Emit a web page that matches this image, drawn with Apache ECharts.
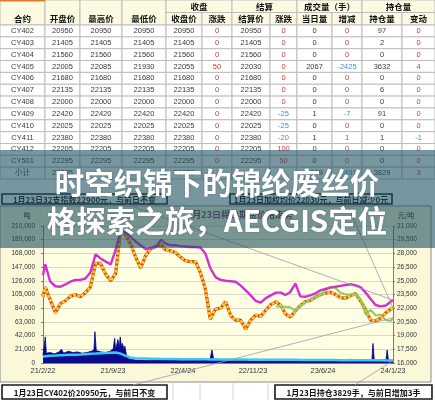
<!DOCTYPE html>
<html>
<head>
<meta charset="utf-8">
<script src="https://cdn.jsdelivr.net/npm/echarts/dist/echarts.min.js"></script>
<style>
html,body{margin:0;padding:0;background:#fff;}
#c{width:435px;height:400px;}
</style>
</head>
<body>
<div id="c"></div>
<script>
// ---------- quote table ----------
const headerGroups = ['收盘', '结算', '成交量（手）', '持仓量'];
const headerCols = ['合约', '开盘价', '最高价', '最低价', '收盘价', '涨跌', '结算价', '涨跌', '当日量', '增减', '持仓量', '变动'];
const contracts     = ['CY402','CY403','CY404','CY405','CY406','CY407','CY408','CY409','CY410','CY411','CY412','CY501','小计'];
const openPrices    = [20950,21405,21560,22005,21680,22135,22000,22420,22025,22380,22205,22295,22005];
const highPrices    = [20950,21405,21560,22085,21680,22135,22000,22420,22025,22380,22205,22295,''];
const lowPrices     = [20950,21405,21560,21930,21680,22135,22000,22420,22025,22380,22205,22295,''];
const closePrices   = [20950,21405,21560,22055,21680,22135,22000,22420,22025,22380,22205,22295,21930];
const closeChanges  = [0,0,0,50,0,0,0,0,0,0,0,0,''];
const settlePrices  = [20950,21405,21560,22030,21680,22135,22000,22420,22025,22380,22205,22295,''];
const settleChanges = [0,0,0,0,0,0,0,-25,-25,-20,100,50,''];
const dayVolumes    = [0,0,0,2067,0,0,0,1,0,1,0,0,2069];
const volumeChanges = [0,0,0,-2425,0,0,0,-7,0,1,0,0,-2431];
const openInterests = [97,2,0,3632,0,6,0,91,0,1,0,0,3829];
const oiChanges     = [0,0,0,4,0,0,0,0,0,-1,0,0,3];

// ---------- price / volume history ----------
const priceDates = ['2021-02-22','2021-03-01','2021-03-16','2021-04-01','2021-04-16','2021-05-01','2021-05-16','2021-06-01','2021-06-16','2021-07-01',
  '2021-07-16','2021-08-01','2021-08-16','2021-09-01','2021-09-16','2021-10-01','2021-10-16','2021-11-01','2021-11-16','2021-12-01',
  '2021-12-16','2022-01-01','2022-01-16','2022-02-01','2022-02-16','2022-03-01','2022-03-16','2022-04-01','2022-04-16','2022-05-01',
  '2022-05-16','2022-06-01','2022-06-16','2022-07-01','2022-07-16','2022-08-01','2022-08-16','2022-09-01','2022-09-16','2022-10-01',
  '2022-10-16','2022-11-01','2022-11-16','2022-12-01','2022-12-16','2023-01-01','2023-01-16','2023-02-01','2023-02-16','2023-03-01',
  '2023-03-16','2023-04-01','2023-04-16','2023-05-01','2023-05-16','2023-06-01','2023-06-16','2023-07-01','2023-07-16','2023-08-01',
  '2023-08-16','2023-09-01','2023-09-16','2023-10-01','2023-10-16','2023-11-01','2023-11-16','2023-12-01','2023-12-16','2024-01-01',
  '2024-01-16','2024-01-23'];
// 32支纱现货指数（元/吨）
const spotIndex = [25640,26800,24900,24400,24350,24600,24900,25100,25100,25250,
  25900,27900,27450,27100,26800,28400,30400,30300,29800,29300,
  28900,28450,28600,28700,29500,29100,28900,28900,28800,28750,
  28700,28700,28650,28000,26400,25400,25100,25000,24950,24900,
  24500,23950,23400,22800,22600,23100,23400,23700,23700,23450,
  23750,24700,23300,23250,23400,23630,23950,24100,24250,24350,
  24450,24540,24620,24500,24300,23700,23000,22350,22200,22300,
  22700,22900];
// 期货加权均价（元/吨）
const weightedPrice = [23260,24300,22900,21500,22500,22800,23300,23500,23250,23700,
  24300,26900,26900,25700,25000,25800,30500,30000,29000,27600,
  26400,27800,28500,28800,29000,28400,28300,28100,27600,27200,
  27100,27100,25900,24100,20800,21900,22000,22700,21200,20700,
  20700,19700,20700,21250,21100,21800,22400,22700,22300,21400,
  21000,21700,22300,22700,22850,23200,23500,23630,23750,23500,
  23150,23080,23400,23600,22800,21800,20700,20600,20900,21500,
  21900,22030];
// CY402 合约价格（元/吨）
const cy402Dates = ['2023-02-01','2023-02-16','2023-03-01','2023-03-16','2023-04-01','2023-04-16','2023-05-01','2023-05-16','2023-06-01','2023-06-16',
  '2023-07-01','2023-07-16','2023-08-01','2023-08-16','2023-09-01','2023-09-16','2023-10-01','2023-10-16','2023-11-01','2023-11-16',
  '2023-12-01','2023-12-16','2024-01-01','2024-01-16','2024-01-23'];
const cy402Price = [22200,22150,22150,22100,21700,22200,22600,23000,23250,23400,
  23900,24350,24200,23700,23500,23500,23600,23000,21300,21800,
  21200,21300,20700,20600,20950];
// 持仓量（手）
const openInterestHist = [9700,10500,11000,11500,12000,12200,12500,12800,13000,13500,
  14000,14500,15000,15500,15800,16000,14500,11000,8000,7200,
  7000,6800,6500,6600,6300,6200,6000,6100,5900,5800,
  5800,5700,5900,5600,5500,5600,5400,5400,5300,5400,
  5200,5200,5100,5200,5000,5000,5100,4900,4900,4800,
  4900,4800,4700,4700,4600,4700,4600,4500,4500,4600,
  4400,4400,4500,4300,4300,4200,4300,4100,4100,4000,
  3900,3829];
// 成交量（吨）
const volumeDates = ['2021-02-22','2021-02-26','2021-03-01','2021-03-04','2021-03-15','2021-03-29','2021-04-12','2021-04-19','2021-04-26','2021-05-10',
  '2021-05-24','2021-06-07','2021-06-21','2021-07-05','2021-07-19','2021-07-27','2021-07-30','2021-08-03','2021-08-17','2021-08-31',
  '2021-09-14','2021-09-24','2021-09-28','2021-10-01','2021-10-08','2021-10-12','2021-10-15','2021-10-19','2021-10-22','2021-10-26',
  '2021-10-29','2021-11-03','2021-11-10','2021-12-01','2022-01-15','2022-03-01','2022-04-12','2022-04-15','2022-04-20','2022-07-15',
  '2022-07-21','2022-07-27','2022-10-01','2023-01-01','2023-04-01','2023-07-01','2023-10-01','2023-11-20','2023-11-23','2023-11-27',
  '2024-01-02','2024-01-05','2024-01-09','2024-01-23'];
const volumeTons = [12000,14000,40000,15000,16000,14000,17000,21000,15000,18000,
  16000,17000,15000,16000,18000,20000,48000,19000,17000,16000,
  18000,22000,38000,20000,36000,22000,40000,24000,30000,20000,
  26000,12000,6000,4500,4000,4500,4000,7000,4000,4500,
  20000,4500,4000,3500,4500,4000,4000,5000,30000,5000,
  5000,20000,5000,4000];

const noteTexts = {
  index: '1月23日32支指数22900元，与前日不变',
  avg: '1月23日加权均价22030元，与前日减少0元',
  cy402: '1月23日CY402价20950元，与前日不变',
  oi: '1月23日持仓3829手，与前日增加3手'
};
const chartTitle = '1月23日棉纱期货价格走势';
const headline = '时空织锦下的锦纶废丝价\n格探索之旅，AECGIS定位';

// ---------- helpers ----------
const START = Date.UTC(2021, 1, 22);
function dayOf(s) {
  const p = s.split('-').map(Number);
  return Math.round((Date.UTC(p[0], p[1] - 1, p[2]) - START) / 86400000);
}
function pairs(dates, vals) { return dates.map((d, i) => [dayOf(d), vals[i]]); }
function dateLabel(v) {
  const dt = new Date(START + v * 86400000);
  return (dt.getUTCFullYear() % 100) + '/' + (dt.getUTCMonth() + 1) + '/' + dt.getUTCDate();
}

// ---------- table cells (layout) ----------
const colEdges = [0, 45, 80, 122, 166, 202, 232, 270, 297, 332, 362, 402, 435];
const groupSpans = [[4, 6], [6, 8], [8, 10], [10, 12]];
const HEAD_MID = 12.5, HEAD_H = 25, ROW_H = 11.85;
const HEAD_FILL = '#FCFAE0';
const dataColumns = [contracts, openPrices, highPrices, lowPrices, closePrices, closeChanges,
  settlePrices, settleChanges, dayVolumes, volumeChanges, openInterests, oiChanges];
const signedCols = [5, 7, 9, 11];

const cells = [];
for (let c = 0; c < 4; c++) {
  cells.push({x0: colEdges[c], x1: colEdges[c + 1], y0: 0, y1: HEAD_H, ty: 18.5, text: headerCols[c], head: true});
}
groupSpans.forEach((s, i) => {
  cells.push({x0: colEdges[s[0]], x1: colEdges[s[1]], y0: 0, y1: HEAD_MID, ty: 6.5, text: headerGroups[i], head: true});
});
for (let c = 4; c < 12; c++) {
  cells.push({x0: colEdges[c], x1: colEdges[c + 1], y0: HEAD_MID, y1: HEAD_H, ty: 18.5, text: headerCols[c], head: true});
}
contracts.forEach((name, r) => {
  for (let c = 0; c < 12; c++) {
    const v = dataColumns[c][r];
    let color = '#3a3a3a';
    if (signedCols.includes(c) && v !== '') color = v < 0 ? '#3F93CF' : '#C8403C';
    const y0 = HEAD_H + r * ROW_H;
    cells.push({x0: colEdges[c], x1: colEdges[c + 1], y0: y0, y1: y0 + ROW_H, ty: y0 + ROW_H / 2,
      text: String(v), color: color, head: false});
  }
});

function renderCell(params, api) {
  const cell = cells[params.dataIndex];
  const p0 = api.coord([cell.x0, cell.y0]);
  const p1 = api.coord([cell.x1, cell.y1]);
  const pt = api.coord([(cell.x0 + cell.x1) / 2, cell.ty]);
  const children = [{
    type: 'rect',
    shape: {x: p0[0], y: p0[1], width: p1[0] - p0[0], height: p1[1] - p0[1]},
    style: {fill: cell.head ? HEAD_FILL : '#ffffff', stroke: '#BDBDBD', lineWidth: 1}
  }];
  if (cell.text !== '') {
    children.push({
      type: 'text', x: pt[0], y: pt[1],
      style: {
        text: cell.text, align: 'center', verticalAlign: 'middle',
        fill: cell.head ? '#111' : cell.color,
        font: cell.head ? 'bold 8.5px "Noto Sans CJK SC"' : '7.5px "Liberation Sans", Arial, "Noto Sans CJK SC"'
      }
    });
  }
  return {type: 'group', children: children};
}

// ---------- chart ----------
const chart = echarts.init(document.getElementById('c'), null, {renderer: 'canvas'});

const option = {
  animation: false,
  backgroundColor: '#ffffff',
  grid: [
    {left: 0, top: 0, width: 435, height: 180},
    {left: 43, top: 226, width: 350, height: 137, show: true, backgroundColor: '#FFFFE3', borderWidth: 0}
  ],
  xAxis: [
    {gridIndex: 0, type: 'value', min: 0, max: 435, show: false},
    {gridIndex: 1, type: 'value', min: 0, max: 1065, interval: 213,
      axisLine: {show: true, lineStyle: {color: '#7d7d7d', width: 1}},
      axisTick: {show: false},
      splitLine: {show: false},
      axisLabel: {formatter: dateLabel, fontSize: 7.5, color: '#333', margin: 4, fontFamily: 'Liberation Sans'}}
  ],
  yAxis: [
    {gridIndex: 0, type: 'value', min: 0, max: 180, inverse: true, show: false},
    {gridIndex: 1, type: 'value', min: 0, max: 210000, interval: 21000, position: 'left',
      axisLine: {show: true, lineStyle: {color: '#7d7d7d', width: 1}},
      axisTick: {show: true, length: 2, lineStyle: {color: '#7d7d7d'}},
      splitLine: {show: true, lineStyle: {color: '#CFCFC4', width: 0.8}},
      axisLabel: {fontSize: 6.5, color: '#333', margin: 8, fontFamily: 'Liberation Sans'}},
    {gridIndex: 1, type: 'value', min: 16000, max: 31000, interval: 1500, position: 'right',
      axisLine: {show: true, lineStyle: {color: '#7d7d7d', width: 1}},
      axisTick: {show: true, length: 2, lineStyle: {color: '#7d7d7d'}},
      splitLine: {show: false},
      axisLabel: {fontSize: 6.5, color: '#333', margin: 4, fontFamily: 'Liberation Sans'}}
  ],
  series: [
    {type: 'custom', xAxisIndex: 0, yAxisIndex: 0, renderItem: renderCell,
      data: cells.map(c => [c.x0, c.y0, c.x1, c.y1]), silent: true},
    {name: '成交量', type: 'line', xAxisIndex: 1, yAxisIndex: 1, symbol: 'none',
      lineStyle: {color: '#00008B', width: 0.8}, areaStyle: {color: '#0A0A8C', opacity: 1},
      data: pairs(volumeDates, volumeTons)},
    {name: '持仓量', type: 'line', xAxisIndex: 1, yAxisIndex: 1, symbol: 'none',
      lineStyle: {color: '#38C8F0', width: 2.5}, data: pairs(priceDates, openInterestHist)},
    {name: '加权均价', type: 'line', xAxisIndex: 1, yAxisIndex: 2, symbol: 'none',
      lineStyle: {color: '#D2451A', width: 3.2}, data: pairs(priceDates, weightedPrice)},
    {name: '加权均价-点', type: 'line', xAxisIndex: 1, yAxisIndex: 2, symbol: 'none',
      lineStyle: {color: '#FFC928', width: 2.6, type: [3, 1.5]}, data: pairs(priceDates, weightedPrice)},
    {name: 'CY402', type: 'line', xAxisIndex: 1, yAxisIndex: 2, symbol: 'none',
      lineStyle: {color: '#8CCB5E', width: 2}, data: pairs(cy402Dates, cy402Price)},
    {name: '32支指数', type: 'line', xAxisIndex: 1, yAxisIndex: 2, symbol: 'none',
      lineStyle: {color: '#D230D2', width: 2.4}, data: pairs(priceDates, spotIndex)}
  ]
};
chart.setOption(option);

// annotation boxes with leader lines to the last data points
const lastDay = dayOf('2024-01-23');
const endIndex = chart.convertToPixel({seriesIndex: 6}, [lastDay, spotIndex[spotIndex.length - 1]]);
const endAvg = chart.convertToPixel({seriesIndex: 3}, [lastDay, weightedPrice[weightedPrice.length - 1]]);
const endCy = chart.convertToPixel({seriesIndex: 5}, [lastDay, cy402Price[cy402Price.length - 1]]);
const endOi = chart.convertToPixel({seriesIndex: 2}, [lastDay, openInterestHist[openInterestHist.length - 1]]);

function box(x, y, w, h, text) {
  return {
    type: 'group', z: 60, children: [
      {type: 'rect', shape: {x: x, y: y, width: w, height: h}, style: {fill: '#fff', stroke: '#1a1a1a', lineWidth: 1.6}},
      {type: 'text', x: x + w / 2, y: y + h / 2 + 0.5, style: {text: text, align: 'center', verticalAlign: 'middle',
        fill: '#111', font: 'bold 8px "Noto Sans CJK SC"'}}
    ]
  };
}
function leader(x1, y1, p) {
  return {type: 'line', z: 55, shape: {x1: x1, y1: y1, x2: p[0], y2: p[1]}, style: {stroke: '#A394AE', lineWidth: 0.8}};
}
const sheetLines = [173, 200, 233, 268].map(x => ({type: 'line', z: -5,
  shape: {x1: x, y1: 382, x2: x, y2: 400}, style: {stroke: '#D4D4D4', lineWidth: 1}}));

chart.setOption({
  graphic: [
    {type: 'rect', z: -20, shape: {x: 0, y: 206, width: 431, height: 176}, style: {fill: '#FAF8D9', stroke: '#8a8a8a', lineWidth: 1}},
    ...sheetLines,
    {type: 'line', z: 20, shape: {x1: 0, y1: 0.75, x2: 45, y2: 0.75}, style: {stroke: '#E0782C', lineWidth: 1.5}},
    {type: 'text', z: 5, x: 27, y: 215, style: {text: '吨', align: 'center', verticalAlign: 'middle', fill: '#222', font: '7px "Noto Sans CJK SC"'}},
    {type: 'text', z: 5, x: 406, y: 215, style: {text: '元/吨', align: 'center', verticalAlign: 'middle', fill: '#222', font: '7px "Noto Sans CJK SC"'}},
    {type: 'text', z: 5, x: 240, y: 215, style: {text: chartTitle, align: 'center', verticalAlign: 'middle', fill: '#7a3a6a', font: 'bold 9px "Noto Sans CJK SC"'}},
    leader(126, 204, endIndex),
    leader(347, 204, endAvg),
    leader(133, 385, endCy),
    leader(355, 385, endOi),
    box(2, 194, 165, 10, noteTexts.index),
    box(230, 194, 162, 10, noteTexts.avg),
    box(2, 385, 165, 14, noteTexts.cy402),
    box(275, 385, 157, 14, noteTexts.oi),
    {type: 'rect', z: 100, shape: {x: 0, y: 150, width: 435, height: 98}, style: {fill: 'rgba(30,80,95,0.6)'}},
    {type: 'text', z: 101, x: 217, y: 202, style: {text: headline, align: 'center', verticalAlign: 'middle',
      fill: '#ffffff', font: 'bold 29.5px "Noto Sans CJK SC"', lineHeight: 38,
      textShadowColor: 'rgba(0,0,0,0.25)', textShadowBlur: 2}}
  ]
});
</script>
</body>
</html>
